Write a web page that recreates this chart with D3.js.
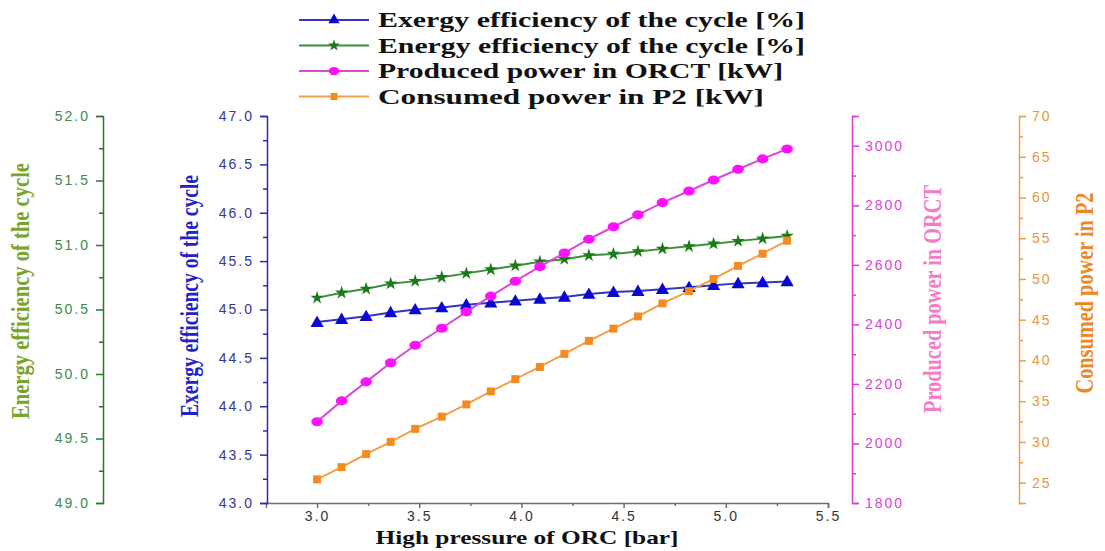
<!DOCTYPE html>
<html lang="en">
<head>
    <meta charset="UTF-8">
    <style>
        body { margin: 0; background: #fff; }
        svg { display: block; }
        .tick text { font: 14px "Liberation Sans", Arial, sans-serif; letter-spacing: 2px; }
        .title { font-family: "Liberation Serif", "Times New Roman", serif; font-weight: bold; }
        .legend text { font: bold 20px "Liberation Serif", "Times New Roman", serif; fill: #111; }
    </style>
    <script src="https://cdn.jsdelivr.net/npm/d3@7"></script>
</head>
<body>
<svg width="1105" height="551"></svg>
<script>
    // high pressure of ORC [bar]
    var pressure = [3.00, 3.12, 3.24, 3.36, 3.48, 3.61, 3.73, 3.85, 3.97, 4.09,
                    4.21, 4.33, 4.45, 4.57, 4.69, 4.82, 4.94, 5.06, 5.18, 5.30];
    // exergy efficiency [%]
    var exergyEff = [44.87, 44.90, 44.93, 44.97, 45.00, 45.02, 45.05, 45.07, 45.09, 45.11,
                     45.13, 45.16, 45.18, 45.19, 45.21, 45.23, 45.25, 45.27, 45.28, 45.29];
    // energy efficiency [%]
    var energyEff = [50.59, 50.63, 50.66, 50.70, 50.72, 50.75, 50.78, 50.81, 50.84, 50.87,
                     50.89, 50.92, 50.93, 50.95, 50.97, 50.99, 51.01, 51.03, 51.05, 51.07];
    // produced power in ORCT [kW]
    var producedPower = [2073, 2143, 2207, 2271, 2330, 2387, 2442, 2495, 2545, 2594,
                         2640, 2686, 2728, 2768, 2809, 2848, 2885, 2921, 2956, 2989];
    // consumed power in P2 [kW]
    var consumedPower = [25.4, 26.9, 28.5, 30.0, 31.6, 33.1, 34.6, 36.2, 37.7, 39.2,
                         40.8, 42.4, 43.9, 45.4, 47.0, 48.5, 50.0, 51.6, 53.1, 54.7];

    var xTicks = [3.0, 3.5, 4.0, 4.5, 5.0, 5.5];
    var xMinor = [3.25, 3.75, 4.25, 4.75, 5.25];
    var blueTicks = [43, 43.5, 44, 44.5, 45, 45.5, 46, 46.5, 47];
    var blueMinor = [43.25, 43.75, 44.25, 44.75, 45.25, 45.75, 46.25, 46.75];
    var greenTicks = [49, 49.5, 50, 50.5, 51, 51.5, 52];
    var greenMinor = [49.25, 49.75, 50.25, 50.75, 51.25, 51.75];
    var magTicks = [1800, 2000, 2200, 2400, 2600, 2800, 3000];
    var magMinor = [1900, 2100, 2300, 2500, 2700, 2900, 3100];
    var orTicks = [25, 30, 35, 40, 45, 50, 55, 60, 65, 70];
    var orMinor = [22.5, 27.5, 32.5, 37.5, 42.5, 47.5, 52.5, 57.5, 62.5, 67.5];

    var legendLabels = ["Exergy efficiency of the cycle [%]", "Energy efficiency of the cycle [%]",
                        "Produced power in ORCT [kW]", "Consumed power in P2 [kW]"];

    var svg = d3.select("svg");
    var plotTop = 116, plotBottom = 503;

    var x = d3.scaleLinear().domain([2.75, 5.5]).range([266, 828]);
    var yBlue = d3.scaleLinear().domain([43, 47]).range([plotBottom, plotTop]);
    var yGreen = d3.scaleLinear().domain([49, 52]).range([plotBottom, plotTop]);
    var yMag = d3.scaleLinear().domain([1800, 3100]).range([plotBottom, plotTop]);
    var yOr = d3.scaleLinear().domain([22.5, 70]).range([plotBottom, plotTop]);

    var series = [
        {name: legendLabels[0], values: exergyEff, y: yBlue, line: "#3535c4", mark: "#0808d0", sym: d3.symbolTriangle, size: 75, lsize: 55},
        {name: legendLabels[1], values: energyEff, y: yGreen, line: "#3a8f3a", mark: "#1a7a1a", sym: d3.symbolStar, size: 55, lsize: 45},
        {name: legendLabels[2], values: producedPower, y: yMag, line: "#d84ad8", mark: "#ff10ff", sym: d3.symbolCircle, size: 80, lsize: 65},
        {name: legendLabels[3], values: consumedPower, y: yOr, line: "#f0a048", mark: "#f58a1e", sym: d3.symbolSquare, size: 64, lsize: 50}
    ];

    function fmt1(d) { return d3.format(".1f")(d); }

    function drawAxis(axisFn, pos, isX, major, minor, fmt, axisColor, textColor) {
        var tr = isX ? "translate(0," + pos + ")" : "translate(" + pos + ",0)";
        var g = svg.append("g").attr("transform", tr);
        g.call(axisFn.tickValues(minor).tickSize(isX ? 3 : 4).tickFormat(""));
        g.select(".domain").remove();
        var g2 = svg.append("g").attr("transform", tr);
        g2.call(axisFn.tickValues(major).tickSize(isX ? 5 : 7).tickPadding(isX ? 3 : 6).tickFormat(fmt));
        [g, g2].forEach(function(s) {
            s.selectAll("path, line").attr("stroke", axisColor).attr("stroke-width", 1.5);
            s.selectAll("text").attr("fill", textColor);
        });
        return g2;
    }

    // axes
    drawAxis(d3.axisBottom(x), plotBottom, true, xTicks, xMinor, fmt1, "#6e6e6e", "#333");
    drawAxis(d3.axisLeft(yGreen), 103, false, greenTicks, greenMinor, fmt1, "#2a7a2a", "#3b8a4a");
    drawAxis(d3.axisLeft(yBlue), 267, false, blueTicks, blueMinor, fmt1, "#2b2bb0", "#35359a");
    drawAxis(d3.axisRight(yMag), 852, false, magTicks, magMinor, d3.format("d"), "#d43cd4", "#dc3fdc");
    drawAxis(d3.axisRight(yOr), 1019, false, orTicks, orMinor, d3.format("d"), "#e6a050", "#e6963c");

    // axis titles
    function vTitle(txt, xPos, yMid, len, color) {
        svg.append("text").attr("class", "title")
            .attr("transform", "translate(" + xPos + "," + yMid + ") rotate(-90)")
            .attr("text-anchor", "middle")
            .attr("font-size", 25)
            .attr("textLength", len).attr("lengthAdjust", "spacingAndGlyphs")
            .attr("fill", color)
            .text(txt);
    }
    vTitle("Energy efficiency of the cycle", 29, 291, 256, "#78a428");
    vTitle("Exergy efficiency of the cycle", 198, 296, 242, "#2222c8");
    vTitle("Produced power in ORCT", 941, 299, 228, "#f27cc8");
    vTitle("Consumed power in P2", 1093, 293, 201, "#ee8622");

    svg.append("text").attr("class", "title")
        .attr("x", 527).attr("y", 544)
        .attr("text-anchor", "middle")
        .attr("font-size", 19)
        .attr("textLength", 303).attr("lengthAdjust", "spacingAndGlyphs")
        .attr("fill", "#111")
        .text("High pressure of ORC [bar]");

    // lines and markers
    series.forEach(function(s) {
        var line = d3.line()
            .x(function(d, i) { return x(pressure[i]); })
            .y(function(d) { return s.y(d); });
        svg.append("path").datum(s.values)
            .attr("d", line).attr("fill", "none")
            .attr("stroke", s.line).attr("stroke-width", 2);
        svg.append("g").selectAll("path")
            .data(s.values).enter().append("path")
            .attr("d", d3.symbol().type(s.sym).size(s.size))
            .attr("transform", function(d, i) {
                var dy = s.sym === d3.symbolTriangle ? 1 : 0;
                return "translate(" + x(pressure[i]) + "," + (s.y(d) + dy) + ")" + (s.sym === d3.symbolCircle ? " scale(1.15,0.9)" : "");
            })
            .attr("fill", s.mark);
    });

    // legend
    var legendLens = [427, 427, 405, 386];
    var legend = svg.append("g").attr("class", "legend");
    series.forEach(function(s, i) {
        var yy = 20 + i * 25.5;
        legend.append("line")
            .attr("x1", 299).attr("x2", 369).attr("y1", yy).attr("y2", yy)
            .attr("stroke", s.line).attr("stroke-width", 2);
        legend.append("path")
            .attr("d", d3.symbol().type(s.sym).size(s.lsize))
            .attr("transform", "translate(334," + yy + ")" + (s.sym === d3.symbolCircle ? " scale(1.15,0.9)" : ""))
            .attr("fill", s.mark);
        legend.append("text")
            .attr("x", 378).attr("y", yy + 7)
            .attr("textLength", legendLens[i]).attr("lengthAdjust", "spacingAndGlyphs")
            .text(s.name);
    });
</script>
</body>
</html>
